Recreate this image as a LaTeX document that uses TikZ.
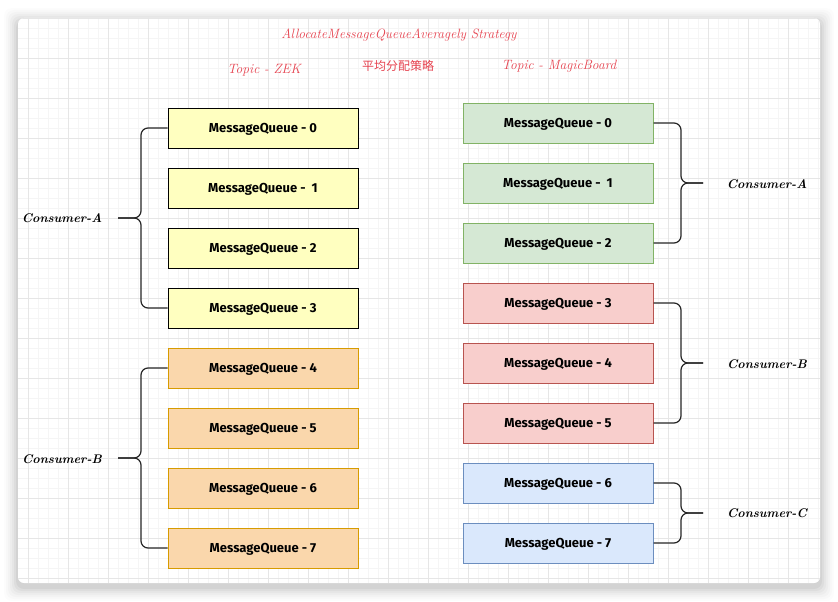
\documentclass[tikz,border=0pt]{standalone}
\usepackage{fontspec}
\setsansfont{Fira Sans}
\newfontfamily\cjkfont{Noto Sans CJK SC}
\usetikzlibrary{positioning}
\definecolor{titlered}{HTML}{E6424F}
\definecolor{ylwfill}{HTML}{FFFFC0}
\definecolor{orgfill}{HTML}{FAD7AC}
\definecolor{orgline}{HTML}{D79B00}
\definecolor{grnfill}{HTML}{D5E8D4}
\definecolor{grnline}{HTML}{82B366}
\definecolor{redfill}{HTML}{F8CECC}
\definecolor{redline}{HTML}{B85450}
\definecolor{blufill}{HTML}{DAE8FC}
\definecolor{bluline}{HTML}{6C8EBF}
\definecolor{gridminor}{HTML}{F5F5F5}
\definecolor{gridmajor}{HTML}{E6E6E6}
\tikzset{
  mq/.style={draw, line width=1pt, minimum width=190pt, minimum height=40pt, inner sep=0pt,
    text height=9pt, text depth=0pt,
    font=\sffamily\bfseries\fontsize{13}{15}\selectfont},
  ylw/.style={mq, fill=ylwfill, draw=black},
  org/.style={mq, fill=orgfill, draw=orgline},
  grn/.style={mq, fill=grnfill, draw=grnline},
  rdb/.style={mq, fill=redfill, draw=redline},
  blu/.style={mq, fill=blufill, draw=bluline},
  brace/.style={draw=black!85, line width=1.2pt, rounded corners=7pt},
  consumer/.style={font=\itshape\bfseries\fontsize{12.5}{14}\selectfont, text=black},
  ttl/.style={text=titlered, font=\itshape\fontsize{13.5}{15}\selectfont},
}
\begin{document}
\begin{tikzpicture}[x=1pt,y=-1pt]
\useasboundingbox (0,0) rectangle (838,602);
\fill[white] (0,0) rectangle (838,602);
% shadow
\foreach \i/\o in {14/0.012,12/0.015,10/0.018,8/0.022,6/0.028,4/0.035,2/0.045}{
  \fill[black, opacity=\o, rounded corners=8pt] (18-\i,18-\i+4) rectangle (820+\i,583+\i+4);
}
% card
\fill[white, rounded corners=6pt] (18,18) rectangle (820,583);
\begin{scope}
\clip[rounded corners=6pt] (18,18) rectangle (820,583);
\foreach \x in {28,38,...,818} \draw[gridminor, line width=0.8pt] (\x,18) -- (\x,583);
\foreach \y in {28,38,...,582} \draw[gridminor, line width=0.8pt] (18,\y) -- (820,\y);
\foreach \x in {28,68,...,818} \draw[gridmajor, line width=0.8pt] (\x,18) -- (\x,583);
\foreach \y in {18,58,...,582} \draw[gridmajor, line width=0.8pt] (18,\y) -- (820,\y);
\end{scope}
% titles
\node[ttl] (title) at (399,35) {AllocateMessageQueueAveragely Strategy};
\node[ttl] (tzek) at (264,70) {Topic - ZEK};
\node[text=titlered, font=\cjkfont\fontsize{12}{14}\selectfont] (tcn) at (398,66) {平均分配策略};
\node[ttl] (tmb) at (559,66) {Topic - MagicBoard};
% left boxes
\node[ylw] (l0) at (263,128) {MessageQueue - 0};
\node[ylw] (l1) at (263,188) {MessageQueue -\ \ 1};
\node[ylw] (l2) at (263,248) {MessageQueue - 2};
\node[ylw] (l3) at (263,308) {MessageQueue - 3};
\node[org] (l4) at (263,368) {MessageQueue - 4};
\node[org] (l5) at (263,428) {MessageQueue - 5};
\node[org] (l6) at (263,488) {MessageQueue - 6};
\node[org] (l7) at (263,548) {MessageQueue - 7};
% right boxes
\node[grn] (r0) at (558,123) {MessageQueue - 0};
\node[grn] (r1) at (558,183) {MessageQueue -\ \ 1};
\node[grn] (r2) at (558,243) {MessageQueue - 2};
\node[rdb] (r3) at (558,303) {MessageQueue - 3};
\node[rdb] (r4) at (558,363) {MessageQueue - 4};
\node[rdb] (r5) at (558,423) {MessageQueue - 5};
\node[blu] (r6) at (558,483) {MessageQueue - 6};
\node[blu] (r7) at (558,543) {MessageQueue - 7};
% left consumers
\coordinate (lbA) at (141,218);
\coordinate (lcA) at (118,218);
\coordinate (lbB) at (141,458);
\coordinate (lcB) at (118,458);
\node[consumer] (lA) at (62,218) {Consumer-A};
\node[consumer] (lB) at (62,459) {Consumer-B};
\draw[brace] (l0.west) -| (lbA) -- (lcA);
\draw[brace] (l3.west) -| (lbA) -- (lcA);
\draw[brace] (l4.west) -| (lbB) -- (lcB);
\draw[brace] (l7.west) -| (lbB) -- (lcB);
% right consumers
\coordinate (rbA) at (681,183);
\coordinate (rcA) at (703,183);
\coordinate (rbB) at (681,363);
\coordinate (rcB) at (703,363);
\coordinate (rbC) at (681,513);
\coordinate (rcC) at (703,513);
\node[consumer] (rA) at (767,184) {Consumer-A};
\node[consumer] (rB) at (767,364) {Consumer-B};
\node[consumer] (rC) at (767,513) {Consumer-C};
\draw[brace] (r0.east) -| (rbA) -- (rcA);
\draw[brace] (r2.east) -| (rbA) -- (rcA);
\draw[brace] (r3.east) -| (rbB) -- (rcB);
\draw[brace] (r5.east) -| (rbB) -- (rcB);
\draw[brace] (r6.east) -| (rbC) -- (rcC);
\draw[brace] (r7.east) -| (rbC) -- (rcC);
\end{tikzpicture}
\end{document}
